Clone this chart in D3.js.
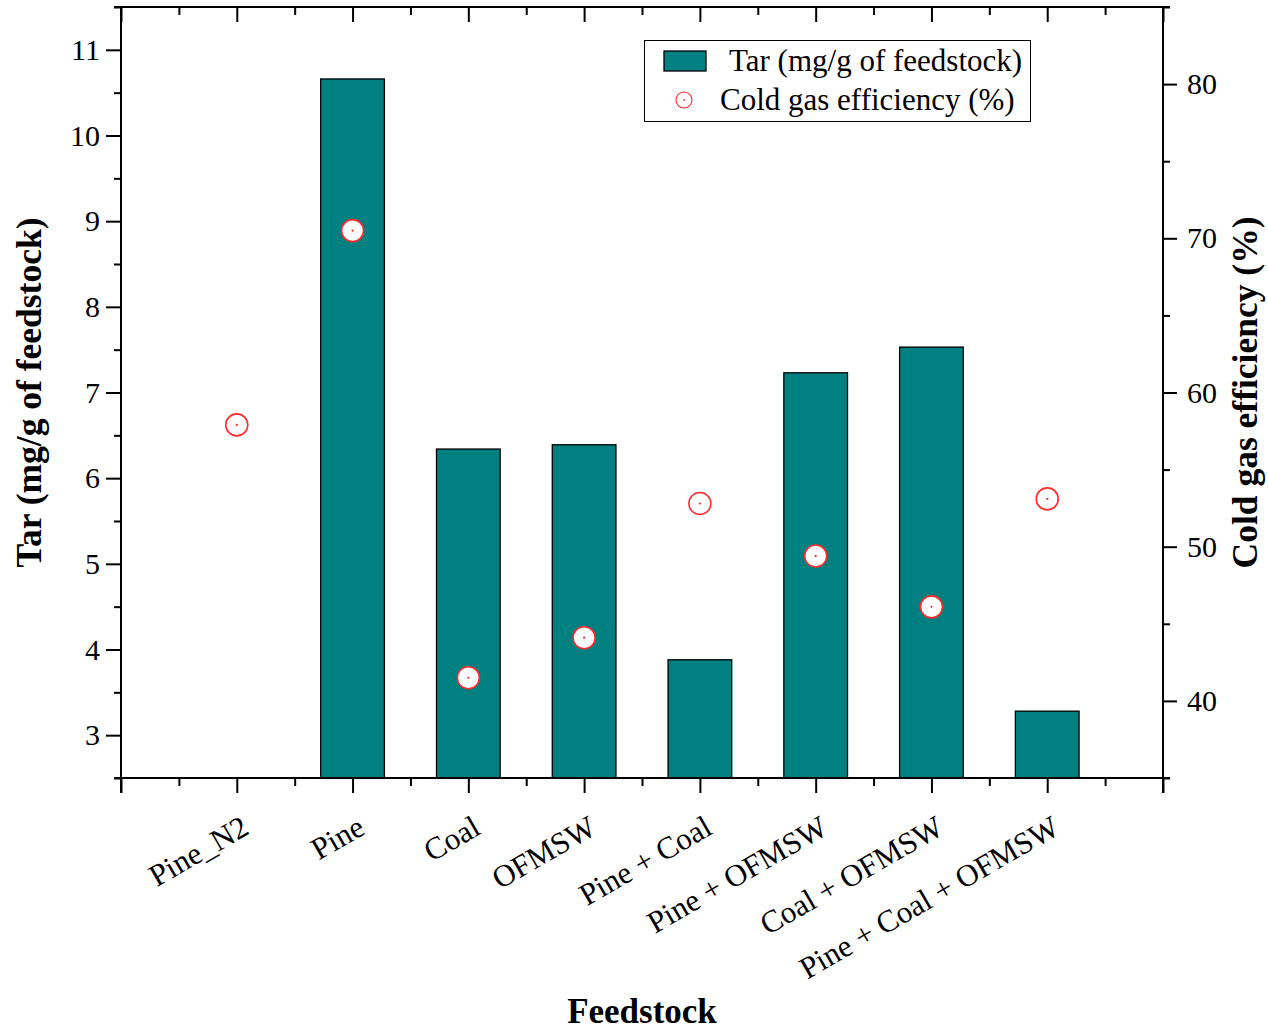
<!DOCTYPE html>
<html>
<head>
<meta charset="utf-8">
<script src="https://cdn.jsdelivr.net/npm/d3@7"></script>
<style>
  html, body { margin: 0; padding: 0; background: #fff; }
  svg text { font-family: "Liberation Serif", "Times New Roman", serif; fill: #000; }
</style>
</head>
<body>
<svg id="chart" width="1268" height="1033"></svg>
<script>
// Feedstock categories and measured values
const categories = ["Pine_N2", "Pine", "Coal", "OFMSW", "Pine + Coal", "Pine + OFMSW", "Coal + OFMSW", "Pine + Coal + OFMSW"];
const tarValues = [null, 10.66, 6.34, 6.39, 3.88, 7.23, 7.53, 3.28];          // mg/g of feedstock
const cgeValues = [57.9, 70.5, 41.5, 44.1, 52.8, 49.4, 46.1, 53.1];          // %
const leftTicks = [3, 4, 5, 6, 7, 8, 9, 10, 11];
const rightTicks = [40, 50, 60, 70, 80];

const svg = d3.select("#chart");
const margin = { left: 121, right: 1163, top: 7, bottom: 778 };

// Category positions sit at 1..n on a linear band from 0 to n+1
const x = d3.scaleLinear().domain([0, categories.length + 1]).range([margin.left, margin.right]);
const yL = d3.scaleLinear().domain([2.5, 11.5]).range([margin.bottom, margin.top]);
const yR = d3.scaleLinear().domain([35, 85]).range([margin.bottom, margin.top]);

const barWidth = x(0.55) - x(0);
const teal = "#008080";
const red = "#ff2a2a";

// Bars (tar yield)
svg.append("g").selectAll("rect")
  .data(tarValues.map((v, i) => ({ v, i })).filter(d => d.v != null))
  .join("rect")
  .attr("x", d => x(d.i + 1) - barWidth / 2)
  .attr("y", d => yL(d.v))
  .attr("width", barWidth)
  .attr("height", d => yL(2.5) - yL(d.v))
  .attr("fill", teal)
  .attr("stroke", "#000")
  .attr("stroke-width", 1.3);

// Circles (cold gas efficiency)
const pts = svg.append("g").selectAll("g")
  .data(cgeValues.map((v, i) => ({ v, i })))
  .join("g")
  .attr("transform", d => `translate(${x(d.i + 1)},${yR(d.v)})`);
pts.append("circle").attr("r", 11).attr("fill", "#fff").attr("stroke", red).attr("stroke-width", 1.6);
pts.append("circle").attr("r", 1.1).attr("fill", red);

// Axis helpers
function styleAxis(g) {
  g.selectAll("path.domain").attr("stroke", "#000").attr("stroke-width", 2);
  g.selectAll(".tick line").attr("stroke", "#000").attr("stroke-width", 2);
  g.selectAll(".tick text").style("font-size", "30px").attr("font-family", "Liberation Serif, serif");
}
const xMajor = d3.range(0, categories.length + 2);
const xMinor = d3.range(0.5, categories.length + 1, 1);

// Bottom axis
const gB = svg.append("g").attr("transform", `translate(0,${margin.bottom})`);
gB.call(d3.axisBottom(x).tickValues(xMinor).tickSize(8).tickFormat("").tickSizeOuter(0));
gB.append("g").call(d3.axisBottom(x).tickValues(xMajor).tickSize(15).tickFormat("").tickSizeOuter(0))
  .select("path.domain").remove();
styleAxis(gB);
gB.select("path.domain").attr("d", `M${margin.left - 7},0H${margin.right + 7}`);

// Top axis (inward ticks)
const gT = svg.append("g").attr("transform", `translate(0,${margin.top})`);
gT.call(d3.axisTop(x).tickValues(xMinor).tickSize(-8).tickFormat("").tickSizeOuter(0));
gT.append("g").call(d3.axisTop(x).tickValues(xMajor).tickSize(-15).tickFormat("").tickSizeOuter(0))
  .select("path.domain").remove();
styleAxis(gT);
gT.select("path.domain").attr("d", `M${margin.left - 7},0H${margin.right + 7}`);

// Category labels, rotated
svg.append("g").selectAll("text")
  .data(categories)
  .join("text")
  .attr("transform", (d, i) => `translate(${x(i + 1) + 14},${margin.bottom + 55}) rotate(-30)`)
  .attr("text-anchor", "end")
  .style("font-size", "31px")
  .text(d => d);

// Left axis
const gL = svg.append("g").attr("transform", `translate(${margin.left},0)`);
gL.call(d3.axisLeft(yL).tickValues(d3.range(2.5, 11.6, 1)).tickSize(7).tickFormat("").tickSizeOuter(0));
gL.append("g").call(d3.axisLeft(yL).tickValues(leftTicks).tickSize(15).tickPadding(6).tickFormat(d3.format("d")))
  .select("path.domain").remove();
styleAxis(gL);
gL.select("path.domain").attr("d", `M0,${margin.top}V${margin.bottom + 15}`);

// Right axis
const gR = svg.append("g").attr("transform", `translate(${margin.right},0)`);
gR.call(d3.axisRight(yR).tickValues(d3.range(35, 86, 10)).tickSize(7).tickFormat("").tickSizeOuter(0));
gR.append("g").call(d3.axisRight(yR).tickValues(rightTicks).tickSize(14).tickPadding(10).tickFormat(d3.format("d")))
  .select("path.domain").remove();
styleAxis(gR);
gR.select("path.domain").attr("d", `M0,${margin.top}V${margin.bottom + 15}`);

// Axis titles
const midY = (margin.top + margin.bottom) / 2;
svg.append("text")
  .attr("transform", `translate(41,${midY}) rotate(-90)`)
  .attr("text-anchor", "middle")
  .style("font-size", "35.5px").style("font-weight", "bold")
  .text("Tar (mg/g of feedstock)");
svg.append("text")
  .attr("transform", `translate(1257,${midY}) rotate(-90)`)
  .attr("text-anchor", "middle")
  .style("font-size", "35.5px").style("font-weight", "bold")
  .text("Cold gas efficiency (%)");
svg.append("text")
  .attr("x", (margin.left + margin.right) / 2)
  .attr("y", 1023)
  .attr("text-anchor", "middle")
  .style("font-size", "35px").style("font-weight", "bold")
  .text("Feedstock");

// Legend
const lg = svg.append("g");
lg.append("rect").attr("x", 644.5).attr("y", 40.5).attr("width", 386).attr("height", 81)
  .attr("fill", "#fff").attr("stroke", "#000").attr("stroke-width", 1);
lg.append("rect").attr("x", 664).attr("y", 51).attr("width", 42).attr("height", 20)
  .attr("fill", teal).attr("stroke", "#000").attr("stroke-width", 1.3);
lg.append("text").attr("x", 729).attr("y", 71).style("font-size", "31px").text("Tar (mg/g of feedstock)");
lg.append("circle").attr("cx", 684).attr("cy", 100).attr("r", 8).attr("fill", "none").attr("stroke", red).attr("stroke-width", 1.1);
lg.append("circle").attr("cx", 684).attr("cy", 100).attr("r", 0.9).attr("fill", red);
lg.append("text").attr("x", 720).attr("y", 110).style("font-size", "31px").text("Cold gas efficiency (%)");
</script>
</body>
</html>
